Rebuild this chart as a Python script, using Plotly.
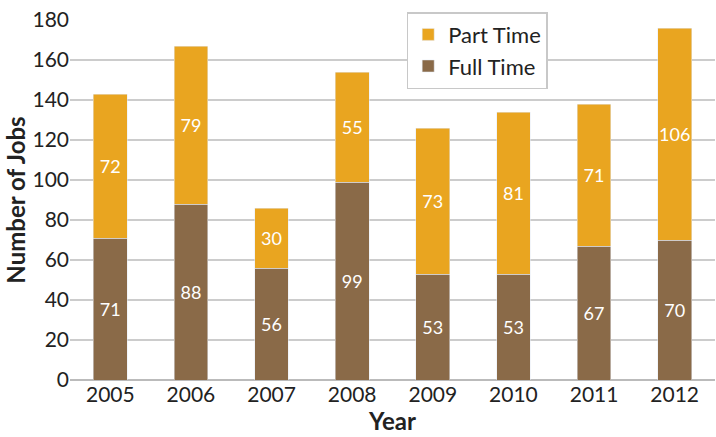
import plotly.graph_objects as go

years = ["2005", "2006", "2007", "2008", "2009", "2010", "2011", "2012"]
full_time = [71, 88, 56, 99, 53, 53, 67, 70]
part_time = [72, 79, 30, 55, 73, 81, 71, 106]

FONT = "Lato"
fig = go.Figure()
fig.add_trace(go.Bar(
    x=years, y=full_time, name="Full Time", marker_color="#8A6A48",
    text=[str(v) for v in full_time], textposition="inside", insidetextanchor="middle",
    textangle=0, textfont=dict(color="white", size=18, family=FONT), width=0.42,
))
fig.add_trace(go.Bar(
    x=years, y=part_time, name="Part Time", marker_color="#E9A520",
    text=[str(v) for v in part_time], textposition="inside", insidetextanchor="middle",
    textangle=0, textfont=dict(color="white", size=18, family=FONT), width=0.42,
))
fig.update_layout(
    barmode="stack",
    width=716, height=437,
    margin=dict(l=70, r=1, t=20, b=57, autoexpand=False),
    plot_bgcolor="white", paper_bgcolor="white",
    font=dict(family=FONT, color="#222", size=21),
    showlegend=True,
    legend=dict(
        x=0.522, y=1.022, xanchor="left", yanchor="top",
        traceorder="reversed", bordercolor="#c8c8c8", borderwidth=1.5,
        bgcolor="white", font=dict(size=22, family=FONT),
    ),
    uniformtext=dict(mode="show", minsize=18),
)
fig.update_xaxes(
    title=dict(text="<b>Year</b>", font=dict(size=24, family=FONT), standoff=2),
    tickfont=dict(size=21, family=FONT), showgrid=False, ticks="", automargin=False,
)
fig.update_yaxes(
    title=dict(text="<b>Number of Jobs</b>", font=dict(size=24, family=FONT), standoff=0),
    range=[0, 180], dtick=20, tickfont=dict(size=21, family=FONT),
    ticklabeloverflow="allow",
    showgrid=True, gridcolor="#cccccc", gridwidth=1.5, automargin=False,
    zeroline=True, zerolinecolor="#bbbbbb", zerolinewidth=2, ticks="",
)
fig.write_html("out.html", config={"displayModeBar": False},
               post_script="document.body.style.margin='0';")
